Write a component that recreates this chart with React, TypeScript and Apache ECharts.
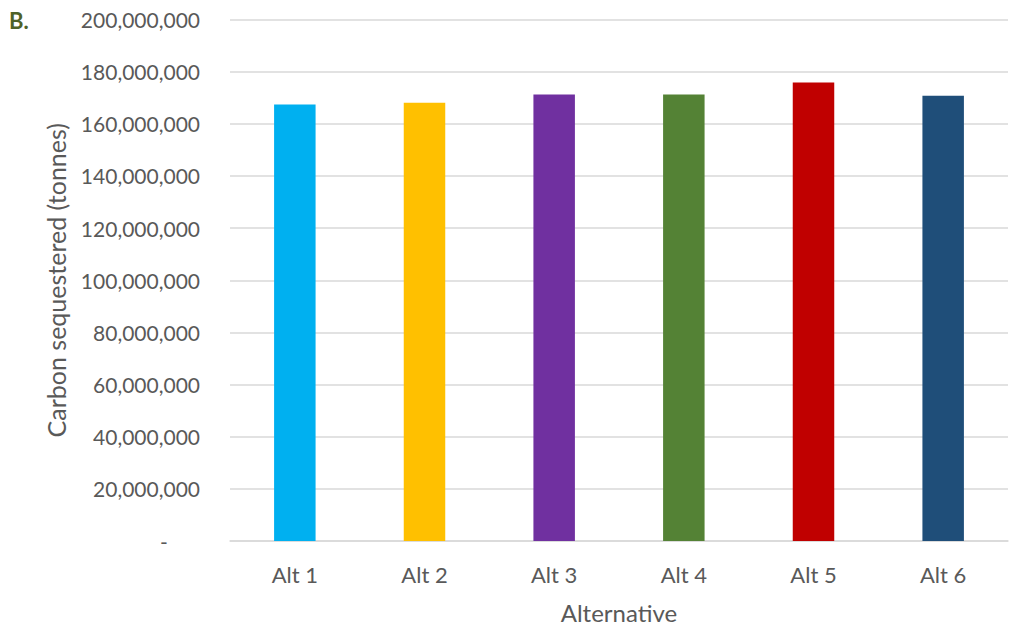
import React, { useEffect, useRef } from "react";
import * as echarts from "echarts";

const categories = ["Alt 1", "Alt 2", "Alt 3", "Alt 4", "Alt 5", "Alt 6"];
const values = [167400000, 168100000, 171200000, 171200000, 175800000, 170800000];
const colors = ["#00B0F0", "#FFC000", "#7030A0", "#548235", "#C00000", "#1F4E79"];
const yTicks = { min: 0, max: 200000000, interval: 20000000 };

const FONT = "Lato, 'Open Sans', sans-serif";

export default function App() {
  const ref = useRef<HTMLDivElement>(null);
  useEffect(() => {
    if (!ref.current) return;
    const chart = echarts.init(ref.current, undefined, { renderer: "svg" });
    chart.setOption({
      animation: false,
      backgroundColor: "#ffffff",
      textStyle: { fontFamily: FONT },
      graphic: [
        {
          type: "text",
          left: 9,
          top: 9,
          style: {
            text: "B.",
            fontFamily: FONT,
            fontWeight: "bold",
            fontSize: 22,
            fill: "#4F6228",
          },
        },
      ],
      grid: { left: 230, right: 13, top: 19.5, bottom: 86.3 },
      xAxis: {
        type: "category",
        data: categories,
        axisLine: { show: true, lineStyle: { color: "#D9D9D9", width: 1.5 } },
        axisTick: { show: false },
        axisLabel: { color: "#595959", fontSize: 22, margin: 22, fontFamily: FONT },
        name: "Alternative",
        nameLocation: "middle",
        nameGap: 59,
        nameTextStyle: { color: "#595959", fontSize: 24, fontFamily: FONT },
      },
      yAxis: {
        type: "value",
        min: yTicks.min,
        max: yTicks.max,
        interval: yTicks.interval,
        axisLine: { show: false },
        axisTick: { show: false },
        splitLine: { lineStyle: { color: "#D9D9D9", width: 1.5 } },
        axisLabel: {
          color: "#595959",
          fontSize: 21,
          margin: 30,
          fontFamily: FONT,
          formatter: (v: number) => (v === 0 ? "-      " : v.toLocaleString("en-US")),
        },
        name: "Carbon sequestered (tonnes)",
        nameLocation: "middle",
        nameGap: 162,
        nameTextStyle: { color: "#595959", fontSize: 25, fontFamily: FONT },
      },
      series: [
        {
          type: "bar",
          barWidth: "32%",
          data: values.map((v, i) => ({ value: v, itemStyle: { color: colors[i] } })),
        },
      ],
    });
    return () => chart.dispose();
  }, []);
  return (
    <div
      ref={ref}
      style={{ position: "fixed", left: 0, top: 0, width: 1021, height: 629 }}
    />
  );
}
